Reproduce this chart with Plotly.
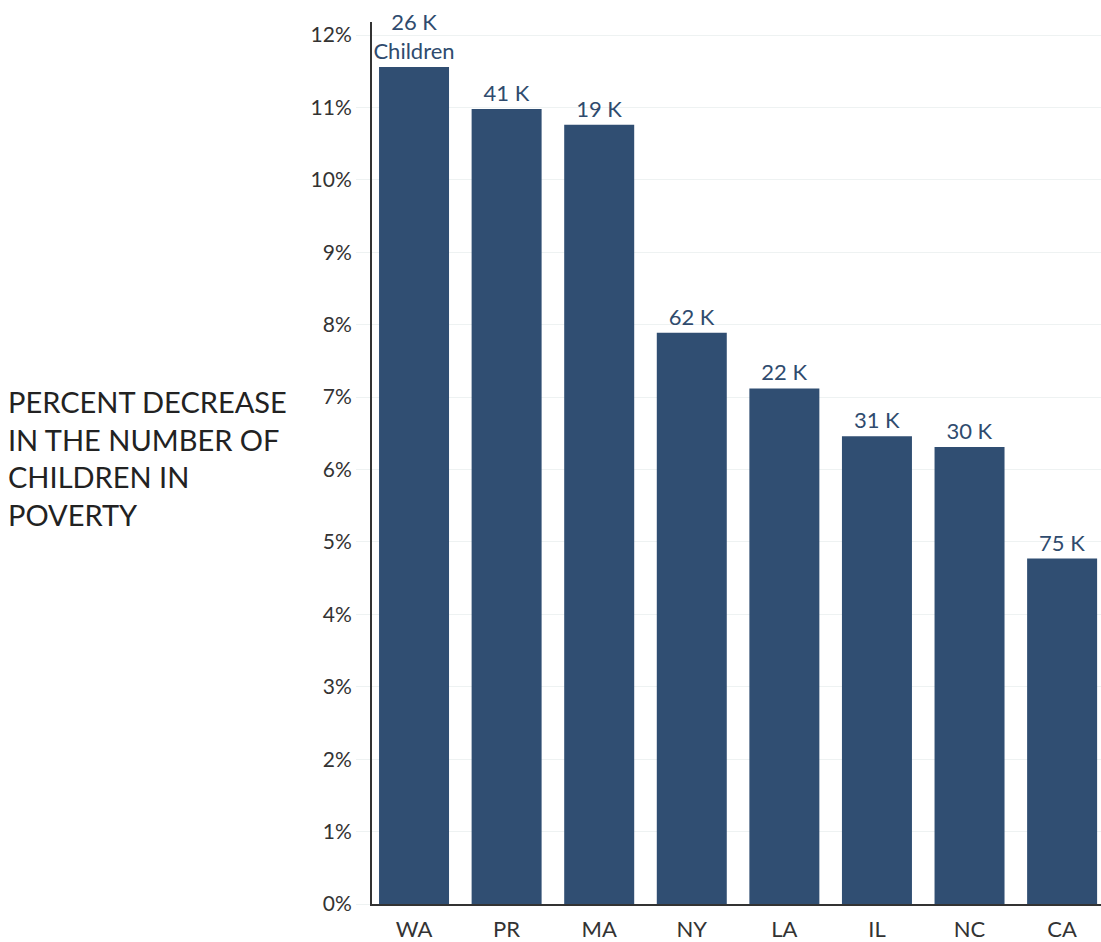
import plotly.graph_objects as go

states = ["WA", "PR", "MA", "NY", "LA", "IL", "NC", "CA"]
pct_decrease = [11.56, 10.98, 10.76, 7.89, 7.12, 6.46, 6.31, 4.77]
children_k = ["26 K<br>Children", "41 K", "19 K", "62 K", "22 K", "31 K", "30 K", "75 K"]
y_ticks = list(range(0, 13))
y_tick_text = [f"{v}%" for v in y_ticks]

FONT = "Lato, 'Open Sans', sans-serif"
BAR = "#304e72"

fig = go.Figure(go.Bar(
    x=states, y=pct_decrease, text=children_k, textposition="outside",
    constraintext="none",
    marker=dict(color=BAR, line=dict(width=0)),
    textfont=dict(family=FONT, size=22, color="#2f4b6e"),
    cliponaxis=False, hoverinfo="skip",
))

fig.update_layout(
    width=1101, height=942,
    margin=dict(l=372, r=0, t=22, b=36),
    paper_bgcolor="white", plot_bgcolor="white",
    bargap=0.244, showlegend=False,
    font=dict(family=FONT, color="#333333"),
    uniformtext=dict(mode=False),
)
fig.update_xaxes(
    range=[-0.454, 7.42], showgrid=False, showline=True, linecolor="#333333", linewidth=2,
    tickfont=dict(family=FONT, size=22, color="#333333"), ticks="outside", ticklen=5,
    tickcolor="white", fixedrange=True,
)
fig.update_yaxes(
    range=[0, 12.18], tickvals=y_ticks, ticktext=y_tick_text,
    showgrid=True, gridcolor="#eef2f2", gridwidth=1, zeroline=False,
    showline=True, linecolor="#333333", linewidth=2,
    ticks="outside", ticklen=14, tickcolor="#eef2f2",
    tickfont=dict(family=FONT, size=21, color="#333333"), fixedrange=True,
)
fig.add_annotation(
    text="PERCENT DECREASE<br>IN THE NUMBER OF<br>CHILDREN IN<br>POVERTY",
    xref="paper", yref="paper", x=(6 - 372) / 729, y=(906 - 459) / 884,
    xanchor="left", yanchor="middle", align="left", showarrow=False,
    font=dict(family=FONT, size=29, color="#222222"),
)
fig.write_html("out.html")
